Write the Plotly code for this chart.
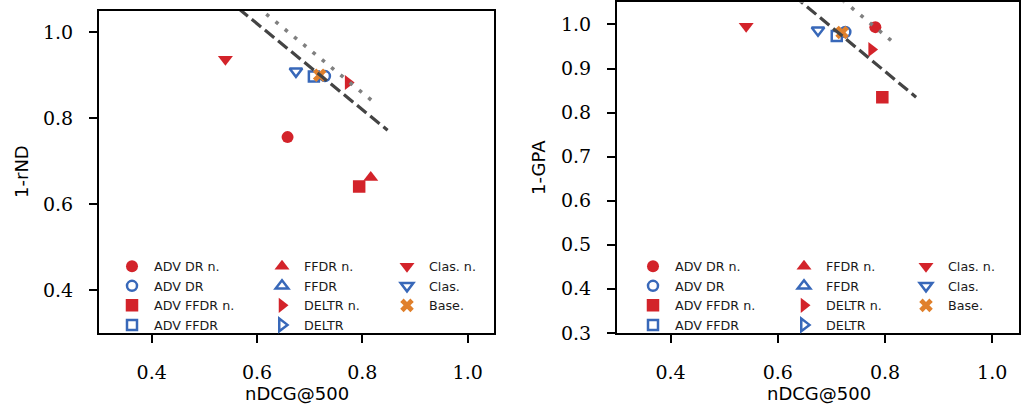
import plotly.graph_objects as go

# ---------------- data ----------------
methods = ["ADV DR n.", "ADV DR", "ADV FFDR n.", "ADV FFDR",
           "FFDR n.", "FFDR", "DELTR n.", "DELTR",
           "Clas. n.", "Clas.", "Base."]

# left panel: nDCG@500 vs 1-rND
ndcg_rnd = [0.658, 0.729, 0.794, 0.708, 0.816, None, 0.773, None, 0.540, 0.674, 0.719]
one_minus_rnd = [0.756, 0.898, 0.641, 0.897, 0.662, None, 0.883, None, 0.937, 0.909, 0.900]

# right panel: nDCG@500 vs 1-GPA
ndcg_gpa = [0.782, 0.726, 0.795, 0.710, None, None, 0.775, None, 0.541, 0.675, 0.720]
one_minus_gpa = [0.994, 0.983, 0.835, 0.974, None, None, 0.943, None, 0.996, 0.987, 0.982]

# reference lines (dashed / dotted)
rnd_dash_x = [0.54, 0.848]
rnd_dash_y = [1.08, 0.772]
rnd_dot_x = [0.60, 0.827]
rnd_dot_y = [1.06, 0.832]
gpa_dash_x = [0.63, 0.858]
gpa_dash_y = [1.065, 0.835]
gpa_dot_x = [0.72, 0.820]
gpa_dot_y = [1.056, 0.955]

x_ticks = [0.4, 0.6, 0.8, 1.0]
rnd_ticks = [0.4, 0.6, 0.8, 1.0]
gpa_ticks = [0.3, 0.4, 0.5, 0.6, 0.7, 0.8, 0.9, 1.0]

# ---------------- style ----------------
RED = "#d3232a"
BLUE = "#3868b9"
ORANGE = "#e0802c"
symbols = ["circle", "circle-open", "square", "square-open",
           "triangle-up", "triangle-up-open", "triangle-right", "triangle-right-open",
           "triangle-down", "triangle-down-open", "x"]
sizes = [12, 10, 12.5, 10, 13, 11, 13, 11, 13, 11, 12]
colors = [RED, BLUE, RED, BLUE, RED, BLUE, RED, BLUE, RED, BLUE, ORANGE]
columns = [0, 0, 0, 0, 1, 1, 1, 1, 2, 2, 2]

W, H = 1022, 418
def px(x):
    return x / W
def py(y):
    return 1 - y / H

fig = go.Figure()

panels = [
    dict(xd=ndcg_rnd, yd=one_minus_rnd, xa="x", ya="y", legs=["legend", "legend2", "legend3"],
         dash=(rnd_dash_x, rnd_dash_y), dot=(rnd_dot_x, rnd_dot_y)),
    dict(xd=ndcg_gpa, yd=one_minus_gpa, xa="x2", ya="y2", legs=["legend4", "legend5", "legend6"],
         dash=(gpa_dash_x, gpa_dash_y), dot=(gpa_dot_x, gpa_dot_y)),
]

for p in panels:
    for i, m in enumerate(methods):
        is_open = symbols[i].endswith("open")
        fig.add_trace(go.Scatter(
            x=[p["xd"][i]], y=[p["yd"][i]], mode="markers", name=m,
            xaxis=p["xa"], yaxis=p["ya"], legend=p["legs"][columns[i]],
            marker=dict(symbol=symbols[i], color=colors[i], size=sizes[i],
                        line=dict(width=2.5 if is_open else 0, color=colors[i])),
        ))
    fig.add_trace(go.Scatter(x=p["dash"][0], y=p["dash"][1], mode="lines", showlegend=False,
                             xaxis=p["xa"], yaxis=p["ya"],
                             line=dict(color="#444444", width=3.2, dash="12px,5px")))
    fig.add_trace(go.Scatter(x=p["dot"][0], y=p["dot"][1], mode="lines", showlegend=False,
                             xaxis=p["xa"], yaxis=p["ya"],
                             line=dict(color="#808080", width=3.6, dash="3.6px,8.4px")))

axis_common = dict(showline=True, linecolor="black", linewidth=2, mirror=True,
                   ticks="outside", ticklen=8, tickwidth=2, tickcolor="black",
                   showgrid=False, zeroline=False,
                   tickfont=dict(family="DejaVu Serif", size=19, color="black"))

fig.update_layout(
    width=W, height=H, margin=dict(l=0, r=0, t=0, b=0),
    plot_bgcolor="white", paper_bgcolor="white",
    xaxis=dict(domain=[px(99), px(494)], range=[0.3, 1.05], tickvals=x_ticks,
               tickformat=".1f", ticklabelstandoff=13, anchor="y", **axis_common),
    yaxis=dict(domain=[py(342), py(10)], range=[0.3, 1.05], tickvals=rnd_ticks,
               tickformat=".1f", ticklabelstandoff=12, anchor="x", **axis_common),
    xaxis2=dict(domain=[px(617), px(1019)], range=[0.3, 1.05], tickvals=x_ticks,
                tickformat=".1f", ticklabelstandoff=13, anchor="y2", **axis_common),
    yaxis2=dict(domain=[py(341.7), py(1.5)], range=[0.3, 1.05], tickvals=gpa_ticks,
                tickformat=".1f", ticklabelstandoff=12, anchor="x2", **axis_common),
)

leg_font = dict(family="DejaVu Sans", size=12.7, color="#1a1a1a")
leg_pos = [(110, 258), (260, 258), (385, 258), (631, 258), (782, 258), (904, 258)]
for k, (lx, ly) in enumerate(leg_pos):
    key = "legend" if k == 0 else f"legend{k+1}"
    fig.update_layout({key: dict(x=px(lx), y=py(ly), xanchor="left", yanchor="top",
                                 bgcolor="rgba(0,0,0,0)", borderwidth=0, font=leg_font,
                                 tracegroupgap=0, itemclick=False, itemwidth=34)})

title_font = dict(family="DejaVu Sans", size=18, color="black")
fig.add_annotation(text="nDCG@500", x=px(296.5), y=py(404), xref="paper", yref="paper",
                   showarrow=False, xanchor="center", yanchor="middle", font=title_font)
fig.add_annotation(text="nDCG@500", x=px(819), y=py(404), xref="paper", yref="paper",
                   showarrow=False, xanchor="center", yanchor="middle", font=title_font)
fig.add_annotation(text="1-rND", x=px(22), y=py(176), xref="paper", yref="paper",
                   showarrow=False, xanchor="center", yanchor="middle", textangle=-90, font=title_font)
fig.add_annotation(text="1-GPA", x=px(538.5), y=py(171.5), xref="paper", yref="paper",
                   showarrow=False, xanchor="center", yanchor="middle", textangle=-90, font=title_font)

fig.write_html("out.html")
